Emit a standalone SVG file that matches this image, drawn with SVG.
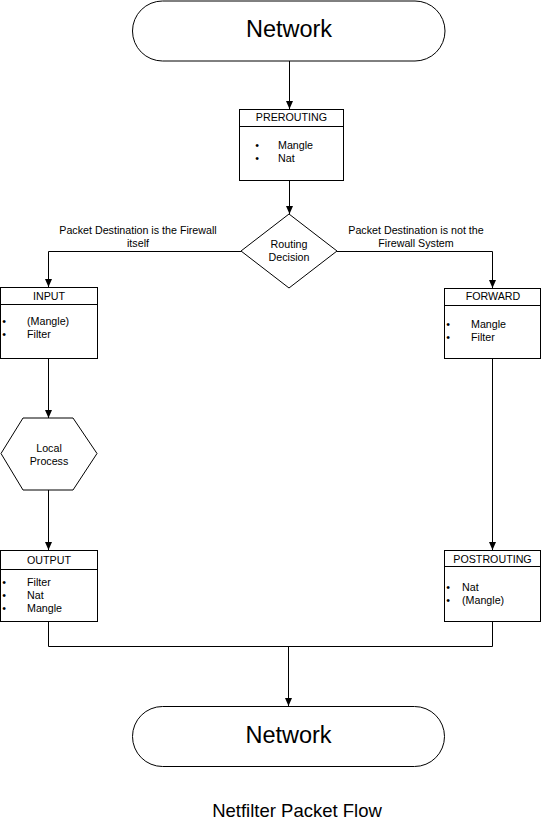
<svg xmlns="http://www.w3.org/2000/svg" width="541" height="826" viewBox="0 0 541 826">
<defs>
<marker id="arr" markerUnits="userSpaceOnUse" markerWidth="8" markerHeight="8" viewBox="0 0 8 8" refX="8" refY="4" orient="auto">
<path d="M0,0.5 L8,4 L0,7.5 Z" fill="#000"/>
</marker>
<style>
.s{fill:#fff;stroke:#000;stroke-width:1}
.c{fill:none;stroke:#000;stroke-width:1}
text{font-family:"Liberation Sans",Arial,sans-serif;fill:#000}
.t{font-size:10.7px}
.m{text-anchor:middle}
.big{font-size:23.5px;text-anchor:middle}
</style>
</defs>
<rect width="541" height="826" fill="#fff"/>
<g id="connectors">
<path class="c" d="M289.5,61 V109" marker-end="url(#arr)"/>
<path class="c" d="M289.5,180 V214" marker-end="url(#arr)"/>
<path class="c" d="M241,251.5 H48.5 V287" marker-end="url(#arr)"/>
<path class="c" d="M337,251.5 H492.5 V288" marker-end="url(#arr)"/>
<path class="c" d="M48.5,359 V418" marker-end="url(#arr)"/>
<path class="c" d="M48.5,490 V550" marker-end="url(#arr)"/>
<path class="c" d="M492.5,358 V550" marker-end="url(#arr)"/>
<path class="c" d="M48.5,622 V646.5 H492.5 V621"/>
<path class="c" d="M288.5,646.5 V706" marker-end="url(#arr)"/>
<text class="t m" x="138" y="234">Packet Destination is the Firewall</text>
<text class="t m" x="138" y="247">itself</text>
<text class="t m" x="416" y="234">Packet Destination is not the</text>
<text class="t m" x="416" y="247">Firewall System</text>
</g>
<g id="network-top">
<rect class="s" x="132.5" y="1" width="312.5" height="60" rx="30" ry="30"/>
<text class="big" x="289" y="37">Network</text>
</g>
<g id="prerouting">
<rect class="s" x="239.5" y="109.5" width="104" height="71"/>
<line class="c" x1="239.5" y1="126.5" x2="343.5" y2="126.5"/>
<text class="t m" x="291.5" y="121">PREROUTING</text>
<text class="t m" x="257" y="149">•</text><text class="t" x="278" y="149">Mangle</text>
<text class="t m" x="257" y="162">•</text><text class="t" x="278" y="162">Nat</text>
</g>
<g id="routing-decision">
<polygon class="s" points="289,214 337,251 289,288 241,251"/>
<text class="t m" x="289" y="248">Routing</text>
<text class="t m" x="289" y="261">Decision</text>
</g>
<g id="input">
<rect class="s" x="0.5" y="287.5" width="97" height="71"/>
<line class="c" x1="0.5" y1="304.5" x2="97.5" y2="304.5"/>
<text class="t m" x="49" y="300">INPUT</text>
<text class="t m" x="4" y="325">•</text><text class="t" x="27" y="325">(Mangle)</text>
<text class="t m" x="4" y="338">•</text><text class="t" x="27" y="338">Filter</text>
</g>
<g id="forward">
<rect class="s" x="444.5" y="288.5" width="96" height="70"/>
<line class="c" x1="444.5" y1="305.5" x2="540.5" y2="305.5"/>
<text class="t m" x="493" y="300">FORWARD</text>
<text class="t m" x="448" y="328">•</text><text class="t" x="471" y="328">Mangle</text>
<text class="t m" x="448" y="341">•</text><text class="t" x="471" y="341">Filter</text>
</g>
<g id="local-process">
<polygon class="s" points="23,418 73,418 97,453.5 73,490 23,490 1,453.5"/>
<text class="t m" x="49" y="452">Local</text>
<text class="t m" x="49" y="465">Process</text>
</g>
<g id="output">
<rect class="s" x="0.5" y="550.5" width="97" height="71"/>
<line class="c" x1="0.5" y1="569.5" x2="97.5" y2="569.5"/>
<text class="t m" x="49" y="564">OUTPUT</text>
<text class="t m" x="4" y="586">•</text><text class="t" x="27" y="586">Filter</text>
<text class="t m" x="4" y="599">•</text><text class="t" x="27" y="599">Nat</text>
<text class="t m" x="4" y="612">•</text><text class="t" x="27" y="612">Mangle</text>
</g>
<g id="postrouting">
<rect class="s" x="444.5" y="550.5" width="96" height="71"/>
<line class="c" x1="444.5" y1="566.5" x2="540.5" y2="566.5"/>
<text class="t m" x="492.5" y="563">POSTROUTING</text>
<text class="t m" x="448" y="591">•</text><text class="t" x="462" y="591">Nat</text>
<text class="t m" x="448" y="604">•</text><text class="t" x="462" y="604">(Mangle)</text>
</g>
<g id="network-bottom">
<rect class="s" x="132.5" y="706.5" width="312" height="60" rx="30" ry="30"/>
<text class="big" x="288.5" y="743">Network</text>
</g>
<g id="title">
<text x="297" y="817" style="font-size:18.5px;text-anchor:middle">Netfilter Packet Flow</text>
</g>
</svg>
